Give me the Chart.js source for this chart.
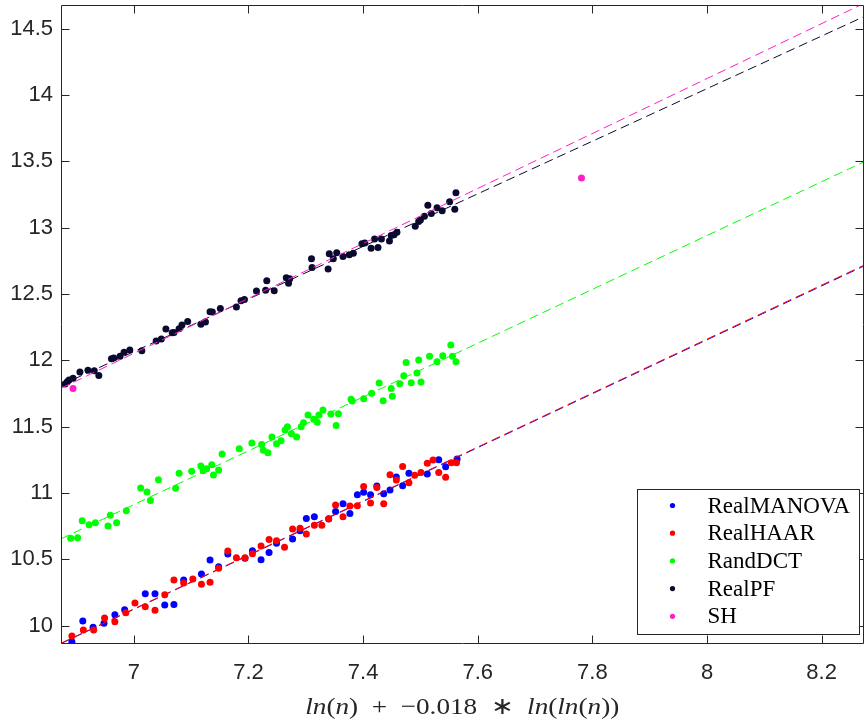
<!DOCTYPE html>
<html>
<head>
<meta charset="utf-8">
<script src="https://cdn.jsdelivr.net/npm/chart.js@4.4.1/dist/chart.umd.min.js"></script>
<style>
  html, body { margin: 0; padding: 0; background: #ffffff; }
  canvas { display: block; }
</style>
</head>
<body>
<canvas id="chart" width="867" height="726"></canvas>
<script>
// ---- series names and colours ----
const seriesNames = ['RealMANOVA', 'RealHAAR', 'RandDCT', 'RealPF', 'SH'];
const seriesColors = ['#0000ff', '#ff0000', '#00ff00', '#0a0a30', '#ff1ec8'];

// ---- measured points: x = ln(n) - 0.018*ln(ln(n)) ----
const manovaX = [6.892, 6.911, 6.929, 6.948, 6.967, 6.984, 7.020, 7.037, 7.054, 7.070, 7.087, 7.118, 7.133, 7.148, 7.164, 7.194, 7.207, 7.222, 7.236, 7.249, 7.277, 7.290, 7.301, 7.315, 7.340, 7.352, 7.365, 7.377, 7.390, 7.401, 7.413, 7.424, 7.436, 7.447, 7.458, 7.469, 7.480, 7.512, 7.532, 7.544, 7.564];
const manovaY = [9.879, 10.035, 9.988, 10.018, 10.083, 10.121, 10.241, 10.241, 10.156, 10.161, 10.344, 10.390, 10.495, 10.445, 10.540, 10.508, 10.565, 10.498, 10.553, 10.621, 10.654, 10.716, 10.809, 10.822, 10.807, 10.862, 10.920, 10.847, 10.988, 11.006, 10.988, 11.053, 10.995, 11.023, 11.121, 11.055, 11.149, 11.143, 11.251, 11.198, 11.256];

const haarX = [6.892, 6.912, 6.930, 6.949, 6.967, 6.986, 7.002, 7.020, 7.037, 7.054, 7.070, 7.087, 7.103, 7.118, 7.133, 7.148, 7.164, 7.179, 7.194, 7.207, 7.222, 7.236, 7.249, 7.263, 7.277, 7.290, 7.301, 7.315, 7.328, 7.340, 7.352, 7.365, 7.377, 7.390, 7.401, 7.413, 7.424, 7.436, 7.447, 7.458, 7.469, 7.480, 7.490, 7.501, 7.512, 7.522, 7.532, 7.544, 7.554, 7.563];
const haarY = [9.922, 9.968, 9.968, 10.058, 10.030, 10.098, 10.171, 10.143, 10.116, 10.234, 10.344, 10.322, 10.352, 10.312, 10.327, 10.433, 10.563, 10.513, 10.513, 10.543, 10.601, 10.651, 10.641, 10.591, 10.729, 10.734, 10.691, 10.757, 10.757, 10.804, 10.910, 10.822, 10.902, 10.904, 11.050, 10.925, 11.043, 10.920, 11.138, 11.098, 11.201, 11.078, 11.134, 11.156, 11.224, 11.249, 11.156, 11.119, 11.229, 11.229];

const dctX = [6.890, 6.902, 6.910, 6.922, 6.933, 6.955, 6.959, 6.970, 6.987, 7.012, 7.023, 7.029, 7.043, 7.073, 7.079, 7.101, 7.117, 7.121, 7.127, 7.136, 7.139, 7.148, 7.154, 7.184, 7.206, 7.223, 7.226, 7.234, 7.241, 7.249, 7.257, 7.264, 7.268, 7.275, 7.284, 7.292, 7.296, 7.304, 7.314, 7.320, 7.323, 7.330, 7.344, 7.353, 7.357, 7.379, 7.381, 7.401, 7.415, 7.428, 7.435, 7.449, 7.451, 7.464, 7.471, 7.475, 7.484, 7.494, 7.497, 7.501, 7.516, 7.529, 7.539, 7.553, 7.556, 7.562];
const dctY = [10.659, 10.663, 10.791, 10.761, 10.776, 10.751, 10.832, 10.776, 10.867, 11.038, 11.008, 10.945, 11.101, 11.036, 11.149, 11.164, 11.204, 11.169, 11.184, 11.214, 11.136, 11.174, 11.294, 11.334, 11.377, 11.367, 11.322, 11.304, 11.422, 11.372, 11.394, 11.475, 11.500, 11.447, 11.422, 11.500, 11.530, 11.588, 11.556, 11.533, 11.588, 11.626, 11.596, 11.510, 11.598, 11.707, 11.694, 11.711, 11.752, 11.829, 11.696, 11.789, 11.729, 11.824, 11.884, 11.985, 11.832, 11.905, 12.003, 11.837, 12.031, 11.990, 12.035, 12.116, 12.031, 11.990];

const pfX = [6.880, 6.884, 6.887, 6.894, 6.906, 6.920, 6.931, 6.939, 6.961, 6.965, 6.976, 6.983, 6.993, 7.014, 7.039, 7.048, 7.056, 7.067, 7.070, 7.079, 7.084, 7.094, 7.117, 7.125, 7.133, 7.137, 7.151, 7.179, 7.187, 7.193, 7.214, 7.230, 7.232, 7.245, 7.266, 7.272, 7.270, 7.310, 7.311, 7.339, 7.341, 7.348, 7.354, 7.365, 7.376, 7.383, 7.398, 7.403, 7.414, 7.420, 7.426, 7.432, 7.446, 7.449, 7.454, 7.459, 7.491, 7.497, 7.500, 7.507, 7.513, 7.519, 7.529, 7.538, 7.551, 7.560, 7.562];
const pfY = [11.822, 11.839, 11.852, 11.865, 11.912, 11.925, 11.922, 11.887, 12.012, 12.018, 12.031, 12.061, 12.078, 12.073, 12.146, 12.161, 12.236, 12.208, 12.211, 12.239, 12.267, 12.294, 12.272, 12.289, 12.367, 12.365, 12.392, 12.402, 12.450, 12.460, 12.523, 12.528, 12.600, 12.525, 12.623, 12.616, 12.581, 12.766, 12.701, 12.689, 12.804, 12.766, 12.811, 12.784, 12.797, 12.807, 12.879, 12.885, 12.845, 12.915, 12.852, 12.915, 12.900, 12.942, 12.947, 12.966, 13.011, 13.048, 13.058, 13.086, 13.169, 13.108, 13.151, 13.128, 13.196, 13.139, 13.264];

const shX = [6.894, 7.781];
const shY = [11.789, 13.375];

// ---- fitted lines, evaluated at both ends of the x range ----
const fitX = [6.873, 8.273];
const fitManova = [9.866, 12.710];
const fitHaar = [9.868, 12.716];
const fitDct = [10.655, 13.495];
const fitPf = [11.814, 14.590];
const fitSh = [11.790, 14.690];

// ---- axis ranges and ticks ----
const xRange = [6.873, 8.273];
const yRange = [9.870, 14.679];
const xTicks = [7, 7.2, 7.4, 7.6, 7.8, 8, 8.2];
const yTicks = [10, 10.5, 11, 11.5, 12, 12.5, 13, 13.5, 14, 14.5];

const AXIS = '#262626';
const TICK_FONT = { family: '"Liberation Sans", Arial, Helvetica, sans-serif', size: 22 };
const SERIF = '"Liberation Serif", "Times New Roman", serif';

const pts = (xs, ys) => xs.map((x, i) => ({ x: x, y: ys[i] }));

const scatterSets = [
  [manovaX, manovaY], [haarX, haarY], [dctX, dctY], [pfX, pfY], [shX, shY]
];
const fitSets = [fitManova, fitHaar, fitDct, fitPf, fitSh];

const datasets = [];
scatterSets.forEach(([xs, ys], i) => {
  datasets.push({
    type: 'scatter',
    label: seriesNames[i],
    data: pts(xs, ys),
    backgroundColor: seriesColors[i],
    borderWidth: 0,
    pointRadius: 3.5,
    pointHoverRadius: 3.5
  });
  datasets.push({
    type: 'line',
    label: seriesNames[i] + ' fit',
    data: pts(fitX, fitSets[i]),
    borderColor: seriesColors[i],
    borderWidth: 1,
    borderDash: [9, 5],
    pointRadius: 0,
    fill: false,
    tension: 0
  });
});
// later datasets are painted over earlier ones
datasets.forEach((d, i) => { d.order = datasets.length - i; });

// axes box with inward tick marks
const frame = {
  id: 'frame',
  afterDatasetsDraw(chart) {
    const { ctx, chartArea: a, scales: { x, y } } = chart;
    const L = Math.round(a.left) + 0.5, R = Math.round(a.right) - 0.5;
    const T = Math.round(a.top) + 0.5, B = Math.round(a.bottom) + 0.5;
    const len = 8;
    ctx.save();
    ctx.strokeStyle = AXIS;
    ctx.lineWidth = 1;
    ctx.beginPath();
    ctx.rect(L, T, R - L, B - T);
    xTicks.forEach(v => {
      const px = Math.round(x.getPixelForValue(v)) + 0.5;
      ctx.moveTo(px, B); ctx.lineTo(px, B - len);
      ctx.moveTo(px, T); ctx.lineTo(px, T + len);
    });
    yTicks.forEach(v => {
      const py = Math.round(y.getPixelForValue(v)) + 0.5;
      ctx.moveTo(L, py); ctx.lineTo(L + len, py);
      ctx.moveTo(R, py); ctx.lineTo(R - len, py);
    });
    ctx.stroke();
    ctx.restore();
  }
};

// legend box in the lower right corner
const legendBox = {
  id: 'legendBox',
  afterDraw(chart) {
    const { ctx, chartArea: a } = chart;
    const w = 222, h = 145;
    const left = Math.round(a.right) - 5 - w + 0.5;
    const top = Math.round(a.bottom) - 9 - h + 0.5;
    ctx.save();
    ctx.fillStyle = '#ffffff';
    ctx.fillRect(left, top, w, h);
    ctx.strokeStyle = AXIS;
    ctx.lineWidth = 1;
    ctx.strokeRect(left, top, w, h);
    ctx.font = '23px ' + SERIF;
    ctx.textBaseline = 'middle';
    ctx.textAlign = 'left';
    seriesNames.forEach((name, i) => {
      const cy = top + 16 + i * 27.7;
      ctx.fillStyle = seriesColors[i];
      ctx.beginPath();
      ctx.arc(left + 35, cy, 2.6, 0, Math.PI * 2);
      ctx.fill();
      ctx.fillStyle = '#000000';
      ctx.fillText(name, left + 70, cy + 1);
    });
    ctx.restore();
  }
};

// x-axis title, set like TeX math: italic letters, upright digits and operators
const xTitle = {
  id: 'xTitle',
  afterDraw(chart) {
    const { ctx, chartArea: a } = chart;
    const it = 'italic 24px ' + SERIF;
    const up = '24px ' + SERIF;
    const parts = [
      ['ln', it], ['(', up], ['n', it], [')', up],
      ['  +  \u22120.018  \u2217  ', up],
      ['ln', it], ['(', up], ['ln', it], ['(', up], ['n', it], ['))', up]
    ];
    const targetWidth = 314;
    ctx.save();
    ctx.fillStyle = AXIS;
    ctx.textBaseline = 'alphabetic';
    ctx.textAlign = 'left';
    let total = 0;
    parts.forEach(([t, f]) => { ctx.font = f; total += ctx.measureText(t).width; });
    const sx = targetWidth / total;
    const cx0 = (a.left + a.right) / 2 - targetWidth / 2;
    ctx.translate(cx0, 714);
    ctx.scale(sx, 1);
    let cx = 0;
    parts.forEach(([t, f]) => {
      ctx.font = f;
      ctx.fillText(t, cx, 0);
      cx += ctx.measureText(t).width;
    });
    ctx.restore();
  }
};

new Chart(document.getElementById('chart'), {
  data: { datasets },
  options: {
    responsive: false,
    animation: false,
    devicePixelRatio: 1,
    layout: { padding: { top: 5, right: 1, left: 0, bottom: 0 } },
    plugins: { legend: { display: false }, tooltip: { enabled: false } },
    scales: {
      x: {
        type: 'linear',
        min: xRange[0], max: xRange[1],
        afterBuildTicks: s => { s.ticks = xTicks.map(v => ({ value: v })); },
        afterFit: s => { s.height = 83; s.paddingLeft = 0; s.paddingRight = 0; },
        grid: { display: false, drawTicks: false },
        border: { display: false },
        ticks: { padding: 17, color: AXIS, font: TICK_FONT, maxRotation: 0, autoSkip: false, callback: v => String(v) }
      },
      y: {
        type: 'linear',
        min: yRange[0], max: yRange[1],
        afterBuildTicks: s => { s.ticks = yTicks.map(v => ({ value: v })); },
        afterFit: s => { s.width = 61; s.paddingTop = 0; s.paddingBottom = 0; },
        grid: { display: false, drawTicks: false },
        border: { display: false },
        ticks: { padding: 8, color: AXIS, font: TICK_FONT, autoSkip: false, callback: v => String(v) }
      }
    }
  },
  plugins: [frame, legendBox, xTitle]
});
</script>
</body>
</html>
